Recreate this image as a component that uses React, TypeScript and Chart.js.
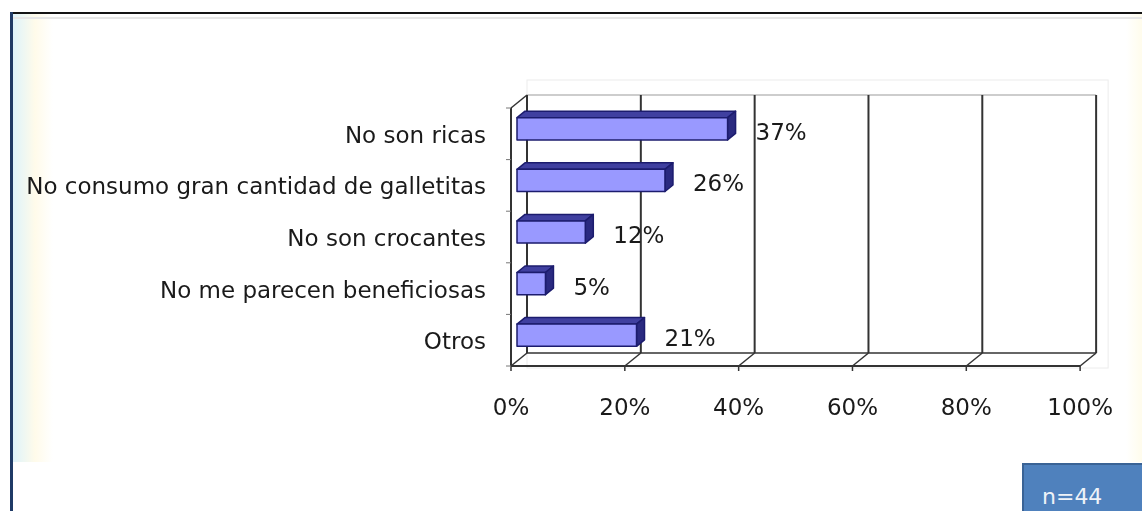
import React, { useEffect, useRef } from "react";
import { Chart, registerables } from "chart.js";

Chart.register(...registerables);

const categories = [
  "No son ricas",
  "No consumo gran cantidad de galletitas",
  "No son crocantes",
  "No me parecen beneficiosas",
  "Otros",
];
const values = [37, 26, 12, 5, 21];
const xTicks = [0, 20, 40, 60, 80, 100];
const sampleNote = "n=44";

const FONT = "'DejaVu Sans', sans-serif";
const DEPTH = { x: 16, y: -13 };
const BAR_OFF = { x: 6, y: -5 };
const BAR_DEPTH = { x: 8, y: -6.5 };

function line(ctx: CanvasRenderingContext2D, x1: number, y1: number, x2: number, y2: number) {
  ctx.beginPath();
  ctx.moveTo(x1, y1);
  ctx.lineTo(x2, y2);
  ctx.stroke();
}

const wallPlugin = {
  id: "wall3d",
  beforeDatasetsDraw(chart: any) {
    const { ctx, chartArea: a, scales } = chart;
    const x = scales.x;
    const y = scales.y;
    const dx = DEPTH.x;
    const dy = DEPTH.y;
    ctx.save();
    // faint outer plot border
    ctx.strokeStyle = "#ececec";
    ctx.lineWidth = 1;
    ctx.strokeRect(a.left + dx, a.top + dy - 15, a.right - a.left + 12, a.bottom - a.top + 30);
    // back wall top edge
    ctx.strokeStyle = "#bdbdbd";
    ctx.lineWidth = 1.5;
    line(ctx, a.left + dx, a.top + dy, a.right + dx, a.top + dy);
    // back gridlines
    ctx.strokeStyle = "#333";
    ctx.lineWidth = 2;
    xTicks.forEach((v) => {
      const px = x.getPixelForValue(v);
      line(ctx, px + dx, a.top + dy, px + dx, a.bottom + dy);
    });
    // back bottom
    ctx.lineWidth = 1.5;
    line(ctx, a.left + dx, a.bottom + dy, a.right + dx, a.bottom + dy);
    // floor diagonals and small ticks
    xTicks.forEach((v) => {
      const px = x.getPixelForValue(v);
      line(ctx, px, a.bottom, px + dx, a.bottom + dy);
      line(ctx, px, a.bottom, px, a.bottom + 5);
    });
    // front bottom edge
    ctx.lineWidth = 2;
    line(ctx, a.left, a.bottom, a.right, a.bottom);
    // left wall
    line(ctx, a.left, a.top, a.left, a.bottom);
    ctx.lineWidth = 1.5;
    line(ctx, a.left, a.top, a.left + dx, a.top + dy);
    // category boundary ticks on left wall
    ctx.strokeStyle = "#777";
    ctx.lineWidth = 1;
    for (let i = 0; i <= categories.length; i++) {
      const py = i < categories.length
        ? y.getPixelForValue(i) - (y.getPixelForValue(1) - y.getPixelForValue(0)) / 2
        : a.bottom;
      line(ctx, a.left - 5, py, a.left, py);
    }
    ctx.restore();
  },
};

const barsPlugin = {
  id: "bars3d",
  afterDatasetsDraw(chart: any) {
    const { ctx } = chart;
    const meta = chart.getDatasetMeta(0);
    ctx.save();
    meta.data.forEach((bar: any, i: number) => {
      const p = bar.getProps(["x", "y", "base", "height"], true);
      const x0 = p.base + BAR_OFF.x;
      const x1 = p.x + BAR_OFF.x;
      const yT = p.y - p.height / 2 + BAR_OFF.y;
      const yB = p.y + p.height / 2 + BAR_OFF.y;
      const bx = BAR_DEPTH.x;
      const by = BAR_DEPTH.y;
      ctx.lineJoin = "round";
      ctx.strokeStyle = "#1c1c6e";
      ctx.lineWidth = 1.5;
      // top face
      ctx.beginPath();
      ctx.moveTo(x0, yT);
      ctx.lineTo(x1, yT);
      ctx.lineTo(x1 + bx, yT + by);
      ctx.lineTo(x0 + bx, yT + by);
      ctx.closePath();
      ctx.fillStyle = "#4040a0";
      ctx.fill();
      ctx.stroke();
      // side face
      ctx.beginPath();
      ctx.moveTo(x1, yT);
      ctx.lineTo(x1 + bx, yT + by);
      ctx.lineTo(x1 + bx, yB + by);
      ctx.lineTo(x1, yB);
      ctx.closePath();
      ctx.fillStyle = "#2a2a80";
      ctx.fill();
      ctx.stroke();
      // front face
      ctx.fillStyle = "#9999ff";
      ctx.fillRect(x0, yT, x1 - x0, yB - yT);
      ctx.strokeRect(x0, yT, x1 - x0, yB - yT);
      // value label
      ctx.fillStyle = "#1a1a1a";
      ctx.font = `23px ${FONT}`;
      ctx.textAlign = "left";
      ctx.textBaseline = "middle";
      ctx.fillText(`${values[i]}%`, x1 + bx + 20, p.y);
    });
    ctx.restore();
  },
};

export default function App() {
  const ref = useRef<HTMLCanvasElement | null>(null);

  useEffect(() => {
    if (!ref.current) return;
    const chart = new Chart(ref.current, {
      type: "bar",
      data: {
        labels: categories,
        datasets: [
          {
            data: values,
            backgroundColor: "rgba(0,0,0,0)",
            borderWidth: 0,
            barPercentage: 0.43,
            categoryPercentage: 1,
          },
        ],
      },
      options: {
        indexAxis: "y",
        animation: false,
        responsive: true,
        maintainAspectRatio: false,
        layout: { padding: { top: 108, right: 60, left: 0, bottom: 0 } },
        plugins: {
          legend: { display: false },
          tooltip: { enabled: false },
          title: { display: false },
        },
        scales: {
          x: {
            min: 0,
            max: 100,
            afterBuildTicks: (s: any) => {
              s.ticks = xTicks.map((v) => ({ value: v }));
            },
            afterFit: (s: any) => {
              s.height = 145;
            },
            grid: { display: false, drawTicks: false },
            border: { display: false },
            ticks: {
              padding: 29,
              color: "#1a1a1a",
              font: { family: FONT, size: 23 },
              callback: (v: any) => `${v}%`,
              maxRotation: 0,
              autoSkip: false,
            },
          },
          y: {
            afterFit: (s: any) => {
              s.width = 511;
            },
            grid: { display: false, drawTicks: false },
            border: { display: false },
            ticks: {
              padding: 25,
              labelOffset: 3,
              color: "#1a1a1a",
              font: { family: FONT, size: 23 },
              autoSkip: false,
            },
          },
        },
      },
      plugins: [wallPlugin, barsPlugin],
    });
    return () => chart.destroy();
  }, []);

  return (
    <div
      style={{
        position: "fixed",
        left: 0,
        top: 0,
        width: 1142,
        height: 511,
        background: "#ffffff",
        overflow: "hidden",
      }}
    >
      <div style={{ position: "absolute", left: 13, top: 14, width: 40, height: 448, background: "linear-gradient(to right, #def3fb, #fffbea 55%, #ffffff)" }} />
      <div style={{ position: "absolute", left: 1126, top: 14, width: 16, height: 448, background: "linear-gradient(to right, #ffffff, #fffcec)" }} />
      <div style={{ position: "absolute", left: 10, top: 12, right: 0, height: 2, background: "#141414" }} />
      <div style={{ position: "absolute", left: 13, top: 17, right: 0, height: 2, background: "#e6e6e6" }} />
      <div style={{ position: "absolute", left: 10, top: 12, width: 3, bottom: 0, background: "#1f3a66" }} />
      <div style={{ position: "absolute", left: 0, top: 0, width: 1142, height: 511 }}>
        <canvas ref={ref} />
      </div>
      <div
        style={{
          position: "absolute",
          left: 1022,
          top: 463,
          width: 120,
          height: 48,
          boxSizing: "border-box",
          background: "#4f81bd",
          borderLeft: "2px solid #3a6395",
          borderTop: "2px solid #3a6395",
        }}
      >
        <span
          style={{
            position: "absolute",
            left: 18,
            top: 19,
            lineHeight: "26px",
            font: `22px ${FONT}`,
            color: "#eef2f8",
          }}
        >
          {sampleNote}
        </span>
      </div>
    </div>
  );
}
